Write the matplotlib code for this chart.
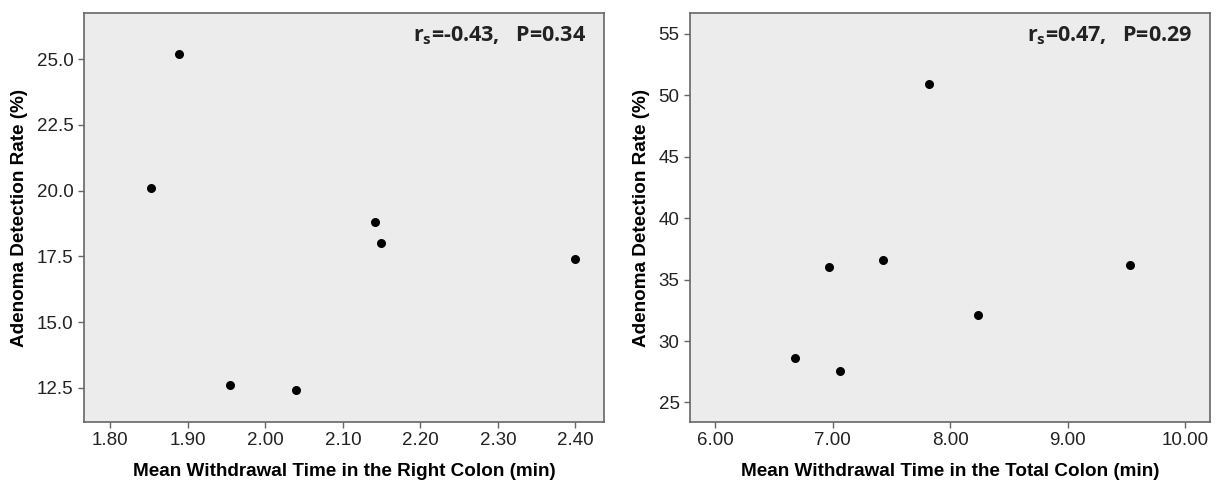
import matplotlib
matplotlib.use("Agg")
import matplotlib.pyplot as plt

# left panel: right colon
right_time = [1.889, 1.852, 2.142, 2.149, 2.400, 1.955, 2.039]
right_adr = [25.2, 20.1, 18.8, 18.0, 17.4, 12.6, 12.4]
right_xticks = [1.80, 1.90, 2.00, 2.10, 2.20, 2.30, 2.40]
right_yticks = [12.5, 15.0, 17.5, 20.0, 22.5, 25.0]

# right panel: total colon
total_time = [7.817, 6.964, 7.425, 9.533, 8.235, 6.676, 7.065]
total_adr = [50.9, 36.0, 36.6, 36.2, 32.1, 28.6, 27.6]
total_xticks = [6.00, 7.00, 8.00, 9.00, 10.00]
total_yticks = [25, 30, 35, 40, 45, 50, 55]

plt.rcParams['font.family'] = ['Liberation Sans', 'DejaVu Sans']
plt.rcParams['mathtext.fontset'] = 'custom'
plt.rcParams['mathtext.rm'] = 'Open Sans:bold'
plt.rcParams['mathtext.it'] = 'Open Sans:bold'
plt.rcParams['mathtext.bf'] = 'Open Sans:bold'

fig = plt.figure(figsize=(12.24, 4.82), dpi=100)
ax1 = fig.add_axes([84 / 1224, 1 - 422 / 482, 520 / 1224, 409 / 482])
ax2 = fig.add_axes([690 / 1224, 1 - 422 / 482, 520 / 1224, 409 / 482])


def style(ax, x, y, xticks, yticks, xlim, ylim, xfmt, yfmt, xlabel, note):
    ax.set_facecolor('#ececec')
    ax.scatter(x, y, s=30, color='black', zorder=3)
    ax.set_xlim(*xlim)
    ax.set_ylim(*ylim)
    ax.set_xticks(xticks)
    ax.set_xticklabels([xfmt.format(v) for v in xticks])
    ax.set_yticks(yticks)
    ax.set_yticklabels([yfmt.format(v) for v in yticks])
    for sp in ax.spines.values():
        sp.set_color('#666666')
        sp.set_linewidth(1.2)
    ax.tick_params(axis='both', labelsize=13.5, colors='#666666', labelcolor='#222222',
                   length=4.5, width=1, pad=3, top=False, right=False)
    ax.set_xlabel(xlabel, fontsize=13.6, fontweight='bold', labelpad=10)
    ax.set_ylabel('Adenoma Detection Rate (%)', fontsize=13.6, fontweight='bold', labelpad=6)
    ax.text(0.965, 0.945, note, transform=ax.transAxes, ha='right', va='center',
            fontsize=15.5, fontweight='bold', family='Open Sans', color='#222222')


style(ax1, right_time, right_adr, right_xticks, right_yticks,
      (1.766, 2.437), (11.2, 26.76), '{:.2f}', '{:.1f}',
      'Mean Withdrawal Time in the Right Colon (min)',
      r'$\mathregular{r_s}$=-0.43,   P=0.34')
style(ax2, total_time, total_adr, total_xticks, total_yticks,
      (5.784, 10.212), (23.41, 56.7), '{:.2f}', '{:d}',
      'Mean Withdrawal Time in the Total Colon (min)',
      r'$\mathregular{r_s}$=0.47,   P=0.29')

fig.savefig('out.png', dpi=100)
